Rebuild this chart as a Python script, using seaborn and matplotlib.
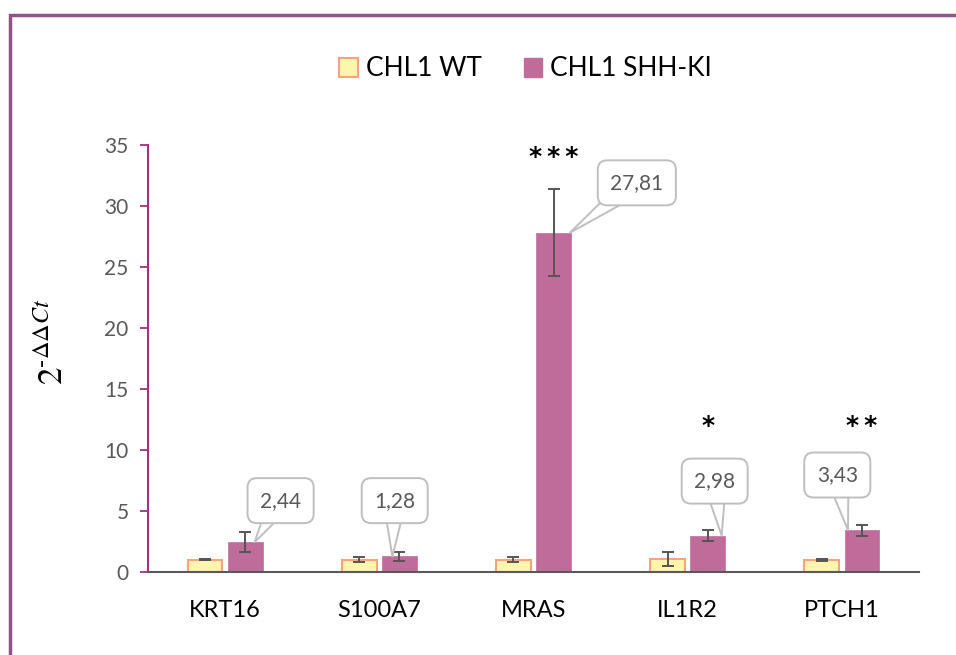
"""Relative expression (2^-ddCt) of target genes, CHL1 WT vs CHL1 SHH-KI."""

import matplotlib

matplotlib.use("Agg")
import matplotlib.pyplot as plt
import numpy as np
import pandas as pd
import seaborn as sns
from matplotlib.patches import Rectangle

genes = ["KRT16", "S100A7", "MRAS", "IL1R2", "PTCH1"]
groups = ["CHL1 WT", "CHL1 SHH-KI"]
wt_values = [1.0, 1.0, 1.0, 1.09, 1.0]
wt_errors = [0.05, 0.2, 0.2, 0.57, 0.08]
ki_values = [2.44, 1.28, 27.81, 2.98, 3.43]
ki_errors = [0.8, 0.38, 3.55, 0.43, 0.45]
ki_labels = ["2,44", "1,28", "27,81", "2,98", "3,43"]
stars = ["", "", "***", "*", "**"]
star_y = [None, None, 34.0, 12.0, 12.0]
# callout box centre (x offset from category, y in data units)
callout_xy = [(0.36, 5.85), (0.10, 5.85), (0.67, 31.9), (0.175, 7.45), (-0.03, 7.95)]
# where the callout pointer touches the bar (fraction of bar width)
tip_frac = [0.77, 0.3, 0.97, 0.9, 0.1]

WT_FILL = "#FFF6AE"
WT_EDGE = "#F8A380"
KI_FILL = "#C06C9A"
SPINE_PURPLE = "#A8307E"
FRAME = "#8E5587"
FONT = "Lato"

df = pd.DataFrame({
    "gene": genes * 2,
    "group": [groups[0]] * len(genes) + [groups[1]] * len(genes),
    "value": wt_values + ki_values,
})

fig = plt.figure(figsize=(9.56, 6.55), dpi=100)
ax = fig.add_axes([148 / 956, 1 - 572 / 655, (919 - 148) / 956, (572 - 145) / 655])

sns.barplot(data=df, x="gene", y="value", hue="group", order=genes, hue_order=groups,
            palette=[WT_FILL, KI_FILL], width=0.52, gap=0.13, errorbar=None,
            saturation=1, ax=ax, legend=False)

# style bars and add error bars
n = len(genes)
for i, patch in enumerate(ax.patches[:2 * n]):
    cx = patch.get_x() + patch.get_width() / 2
    if i < n:
        patch.set_edgecolor(WT_EDGE)
        patch.set_linewidth(1.5)
        val, err = wt_values[i], wt_errors[i]
    else:
        patch.set_edgecolor(KI_FILL)
        patch.set_linewidth(0.5)
        val, err = ki_values[i - n], ki_errors[i - n]
    ax.errorbar(cx, val, yerr=err, color="#555555", lw=1.4, capsize=4.5, capthick=1.4, zorder=5)

# callouts and significance stars
ki_patches = ax.patches[n:2 * n]
for i, (lab, (dx, yy)) in enumerate(zip(ki_labels, callout_xy)):
    p = ki_patches[i]
    tip = (p.get_x() + p.get_width() * tip_frac[i], ki_values[i])
    ax.annotate(lab, xy=tip, xytext=(i + dx, yy), ha="center", va="center",
                fontsize=15, color="#595959", fontfamily=FONT,
                bbox=dict(boxstyle="round,pad=0.6,rounding_size=0.45", fc="white", ec="#BFBFBF", lw=1.4),
                arrowprops=dict(arrowstyle="wedge,tail_width=1.1,shrink_factor=0.5", fc="white",
                                ec="#BFBFBF", lw=1.4, patchA=None, shrinkA=0, shrinkB=0),
                zorder=6)
    if stars[i]:
        ax.text(p.get_x() + p.get_width() / 2, star_y[i], "\u2009".join(stars[i]), ha="center",
                va="center", fontsize=18, fontweight="bold", color="black",
                fontfamily="DejaVu Sans")

ax.set_ylim(0, 35)
ax.set_xlim(-0.5, len(genes) - 0.5)
ax.set_yticks(np.arange(0, 36, 5))
ax.set_xlabel("")
ax.set_ylabel("")
ax.tick_params(axis="y", colors=SPINE_PURPLE, length=6, width=1.3, labelcolor="#595959",
               labelsize=15, pad=8)
ax.tick_params(axis="x", length=0, labelsize=17, labelcolor="black", pad=20)
for lab in ax.get_yticklabels() + ax.get_xticklabels():
    lab.set_fontfamily(FONT)
for side in ["top", "right"]:
    ax.spines[side].set_visible(False)
ax.spines["left"].set_color(SPINE_PURPLE)
ax.spines["left"].set_linewidth(1.5)
ax.spines["bottom"].set_color("#595959")
ax.spines["bottom"].set_linewidth(1.5)
ax.set_facecolor("none")

# y label 2^-ddCt
plt.rcParams["mathtext.fontset"] = "stix"
fig.text(53 / 956, 1 - 342 / 655, r"$\mathit{2}^{\text{-}\mathit{\Delta\Delta Ct}}$", rotation=90,
         ha="center", va="center", fontsize=25, color="black")

# legend
handles = [Rectangle((0, 0), 1, 1, fc=WT_FILL, ec=WT_EDGE, lw=1.5),
           Rectangle((0, 0), 1, 1, fc=KI_FILL, ec=KI_FILL)]
fig.legend(handles, groups, loc="center", bbox_to_anchor=(0.55, 1 - 69 / 655), ncol=2,
           frameon=False, prop={"family": FONT, "size": 19}, handlelength=0.7, handleheight=0.7,
           handletextpad=0.3, columnspacing=1.6)

# outer chart frame
fig.patches.append(Rectangle((10 / 956, -0.05), 1.1, 1 - 15 / 655 + 0.05, transform=fig.transFigure,
                             fill=False, ec=FRAME, lw=2.5))

fig.savefig("out.png", dpi=100)
